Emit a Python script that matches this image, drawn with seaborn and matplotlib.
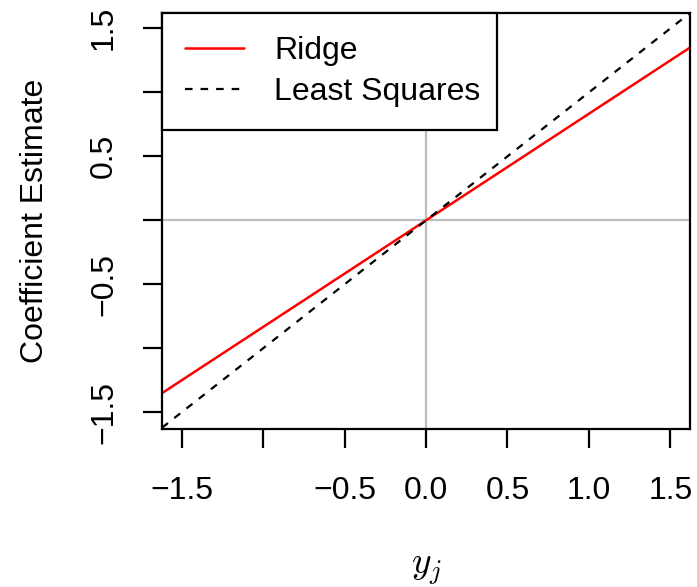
import matplotlib
matplotlib.use("Agg")
import matplotlib.pyplot as plt
import seaborn as sns
import pandas as pd

# data
x_vals = [-1.62, 1.62]
least_squares = [-1.62, 1.62]
ridge = [-1.35, 1.35]
x_ticks = [-1.5, -1.0, -0.5, 0.0, 0.5, 1.0, 1.5]
x_ticklabels = ["\u22121.5", "", "\u22120.5", "0.0", "0.5", "1.0", "1.5"]
y_ticks = [-1.5, -1.0, -0.5, 0.0, 0.5, 1.0, 1.5]
y_ticklabels = ["\u22121.5", "", "\u22120.5", "", "0.5", "", "1.5"]

sns.set_style("ticks")
plt.rcParams["font.family"] = ["Liberation Sans", "DejaVu Sans"]
plt.rcParams["mathtext.fontset"] = "cm"
plt.rcParams["text.color"] = "black"
plt.rcParams["xtick.color"] = "black"
plt.rcParams["ytick.color"] = "black"
plt.rcParams["axes.labelcolor"] = "black"

fig = plt.figure(figsize=(6.97, 5.87), dpi=100)
ax_w = (690 - 162) / 697
ax = fig.add_axes([162/697, 1 - 429/587, ax_w, (429-13)/587])

df = pd.DataFrame({"x": x_vals, "ls": least_squares, "ridge": ridge})

DASH = [3.4, 3.6]
FS = 23
ax.axhline(0, color="#BEBEBE", lw=1.6, zorder=1)
ax.axvline(0, color="#BEBEBE", lw=1.6, zorder=1)
sns.lineplot(data=df, x="x", y="ridge", color="#FF0000", lw=1.8, ax=ax, label="Ridge")
sns.lineplot(data=df, x="x", y="ls", color="black", lw=1.6, ax=ax,
             label="Least Squares", dashes=False)
ax.lines[-1].set_dashes(DASH)

ax.set_xlim(-1.62, 1.62)
ax.set_ylim(-1.63, 1.62)
ax.set_xticks(x_ticks)
ax.set_xticklabels(x_ticklabels, fontsize=FS)
ax.set_yticks(y_ticks)
ax.set_yticklabels(y_ticklabels, fontsize=FS, rotation=90, va="center")
ax.tick_params(axis="both", length=14, width=1.6, color="black")
ax.tick_params(axis="x", pad=20)
ax.tick_params(axis="y", pad=17)
for s in ax.spines.values():
    s.set_linewidth(1.6)
    s.set_color("black")

ax.set_xlabel(r"$y_j$", fontsize=27, labelpad=32)
ax.set_ylabel("Coefficient Estimate", fontsize=FS, labelpad=28)

leg_w = (497 - 162) / (690 - 162)
leg = ax.legend(loc="upper left", bbox_to_anchor=(0, 0.5, leg_w, 0.5),
                mode="expand", borderaxespad=0,
                fancybox=False, edgecolor="black", framealpha=1, fontsize=FS,
                handlelength=1.85, handletextpad=0.95, labelspacing=0.34,
                borderpad=0.72)
leg.get_frame().set_linewidth(1.6)
leg.get_lines()[1].set_dashes(DASH)

fig.savefig("out.png", dpi=100)
